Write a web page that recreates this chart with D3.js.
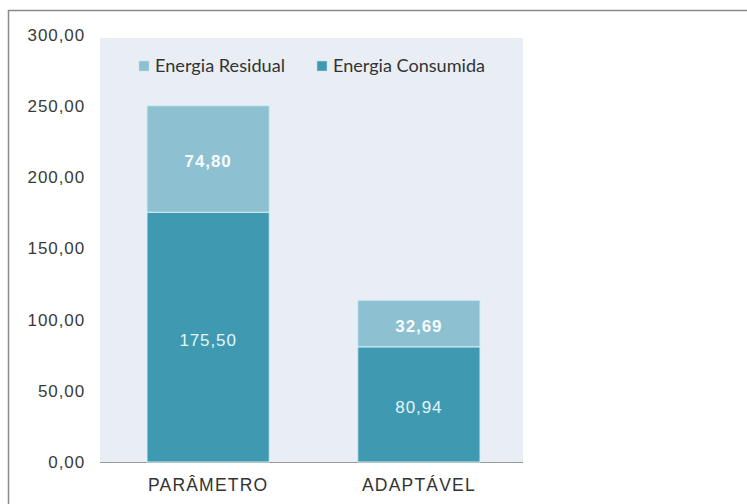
<!DOCTYPE html>
<html>
<head>
<meta charset="utf-8">
<script src="https://cdn.jsdelivr.net/npm/d3@7"></script>
<style>
  html, body { margin: 0; padding: 0; background: #ffffff; }
  svg { display: block; }
</style>
</head>
<body>
<svg id="chart" width="747" height="504"></svg>
<script>
// Energy per configuration, stacked: consumed at the bottom, residual on top
const categories = ["PARÂMETRO", "ADAPTÁVEL"];
const consumida = [175.50, 80.94];
const residual = [74.80, 32.69];
const seriesNames = ["Energia Residual", "Energia Consumida"];
const yTicks = [0, 50, 100, 150, 200, 250, 300];

const svg = d3.select("#chart");
const W = 747, H = 504;
const sans = "'Liberation Sans', Arial, sans-serif";

// outer frame
svg.append("rect")
  .attr("x", 8.5).attr("y", 10.5)
  .attr("width", W + 10).attr("height", H + 10)
  .attr("fill", "#ffffff")
  .attr("stroke", "#8a8a8a").attr("stroke-width", 1.5);

const plot = { left: 100, right: 523, top: 38, bottom: 462 };

// plot area background
svg.append("rect")
  .attr("x", plot.left).attr("y", plot.top)
  .attr("width", plot.right - plot.left)
  .attr("height", plot.bottom - plot.top)
  .attr("fill", "#e9eef5");

const y = d3.scaleLinear().domain([0, 300]).range([plot.bottom, 35]);
const x = d3.scaleBand().domain(categories)
  .range([plot.left, plot.right + 4]).paddingInner(0.42).paddingOuter(0.223);

const fmt = v => d3.format(".2f")(v).replace(".", ",");

// y axis labels
const yAxis = d3.axisLeft(y).tickValues(yTicks).tickFormat(fmt).tickSize(0).tickPadding(0);
const gy = svg.append("g").attr("transform", "translate(85,0)").call(yAxis);
gy.select(".domain").remove();
gy.selectAll("text")
  .attr("font-family", sans)
  .attr("font-size", 17).attr("letter-spacing", 0.9)
  .attr("fill", "#3a3a3a");

// x axis
const xAxis = d3.axisBottom(x).tickSize(0).tickPadding(0);
const gx = svg.append("g").attr("transform", `translate(0,${plot.bottom})`).call(xAxis);
gx.select(".domain").remove();
gx.selectAll("text")
  .attr("dy", null).attr("y", 29)
  .attr("font-family", sans)
  .attr("font-size", 17.5).attr("letter-spacing", 1.2)
  .attr("fill", "#333333");
svg.append("line")
  .attr("x1", plot.left).attr("x2", plot.right)
  .attr("y1", plot.bottom + 0.5).attr("y2", plot.bottom + 0.5)
  .attr("stroke", "#9a9a9a").attr("stroke-width", 1);

const colConsumida = "#3f9ab1";
const colResidual = "#8dc0d1";

const rows = categories.map((c, i) => ({ cat: c, consumida: consumida[i], residual: residual[i] }));
const stacked = d3.stack().keys(["consumida", "residual"])(rows);
const colors = { consumida: colConsumida, residual: colResidual };

stacked.forEach(layer => {
  svg.append("g").selectAll("rect").data(layer).join("rect")
    .attr("x", d => x(d.data.cat))
    .attr("width", x.bandwidth())
    .attr("y", d => y(d[1]))
    .attr("height", d => y(d[0]) - y(d[1]))
    .attr("fill", colors[layer.key])
    .attr("stroke", "#d2ecf4").attr("stroke-width", 1);
});

// value labels inside segments
stacked.forEach(layer => {
  const bold = layer.key === "residual";
  svg.append("g").selectAll("text").data(layer).join("text")
    .attr("x", d => x(d.data.cat) + x.bandwidth() / 2)
    .attr("y", d => (y(d[0]) + y(d[1])) / 2 + 8.5)
    .attr("text-anchor", "middle")
    .attr("font-family", sans)
    .attr("font-size", 17).attr("letter-spacing", 0.9)
    .attr("font-weight", bold ? "bold" : "normal")
    .attr("fill", bold ? "#f6fcff" : "#e4f6fb")
    .text(d => fmt(d[1] - d[0]));
});

// legend
const legend = svg.append("g").attr("transform", "translate(139,66)");
const legendItems = [
  { name: seriesNames[0], color: colResidual, dx: 0, len: 130 },
  { name: seriesNames[1], color: colConsumida, dx: 178, len: 152 }
];
legendItems.forEach(it => {
  const g = legend.append("g").attr("transform", `translate(${it.dx},0)`);
  g.append("rect").attr("x", 0).attr("y", -5).attr("width", 10).attr("height", 10)
    .attr("fill", it.color).attr("stroke", "#c8dfe8").attr("stroke-width", 0.5);
  g.append("text").attr("x", 16).attr("y", 6)
    .attr("font-family", "Lato, 'Open Sans', sans-serif")
    .attr("font-size", 16.5).attr("fill", "#333333")
    .attr("textLength", it.len).attr("lengthAdjust", "spacingAndGlyphs")
    .text(it.name);
});
</script>
</body>
</html>
